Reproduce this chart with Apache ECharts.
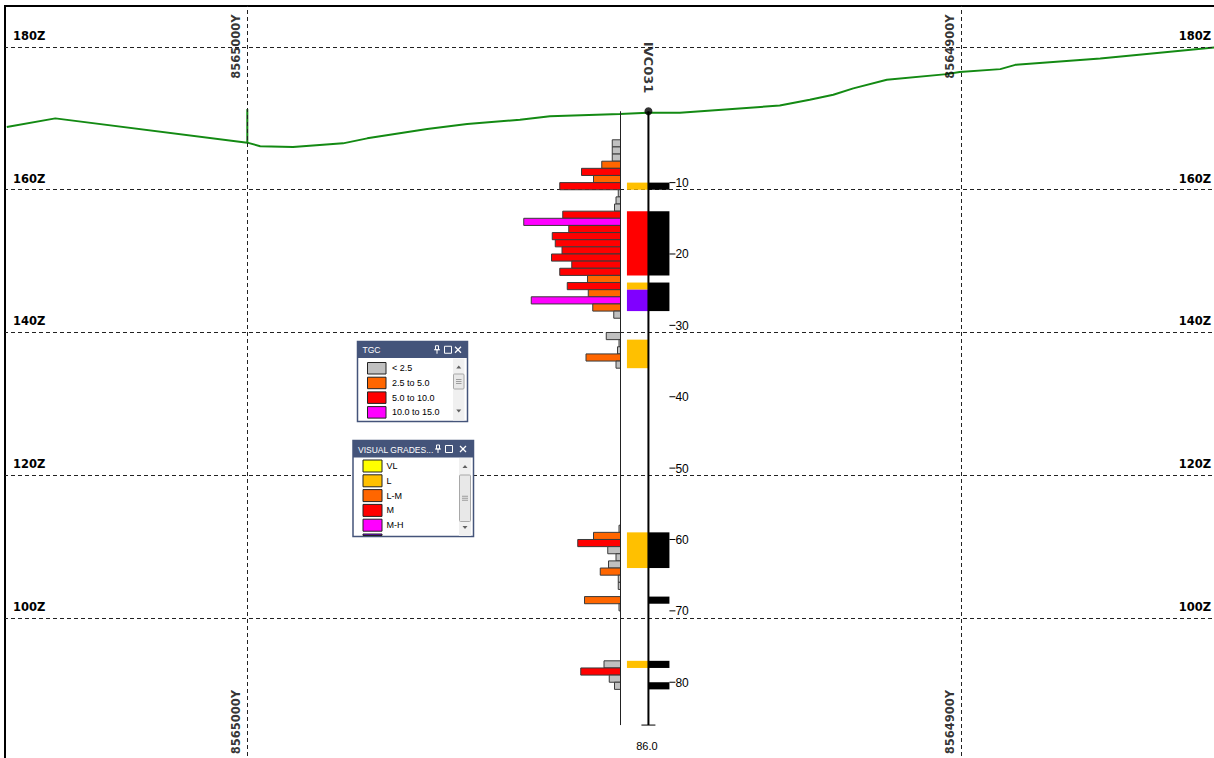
<!DOCTYPE html>
<html><head><meta charset="utf-8">
<script src="https://cdn.jsdelivr.net/npm/echarts@6/dist/echarts.min.js"></script>
<style>html,body{margin:0;padding:0;background:#fff}#c{width:1214px;height:758px}</style>
</head><body><div id="c"></div>
<script>
// ================= DATA =================
const holeName = 'IVC031';
const holeY = 8564943.8;      // northing of the vertical hole
const collarZ = 171.0;        // collar elevation
const holeDepth = 86.0;       // end of hole depth
const depthTicks = [10, 20, 30, 40, 50, 60, 70, 80];
const zTicks = [100, 120, 140, 160, 180];
const yTicks = [8565000, 8564900];

// topography profile (northing, elevation)
const terrainY = [8565033.7, 8565026.9, 8565000.0, 8564998.2, 8564993.6, 8564986.6, 8564983.2, 8564974.8, 8564969.2, 8564961.8, 8564957.6, 8564947.8, 8564943.9, 8564939.4, 8564925.4, 8564921.2, 8564917.9, 8564915.1, 8564910.4, 8564902.0, 8564900.2, 8564894.5, 8564892.4, 8564880.5, 8564863.9];
const terrainZ = [168.8, 170.0, 166.6, 166.1, 166.0, 166.5, 167.2, 168.5, 169.2, 169.8, 170.3, 170.6, 170.8, 170.8, 171.8, 172.6, 173.3, 174.2, 175.4, 176.2, 176.5, 176.9, 177.5, 178.4, 180.0];
const markerY = [8565000.0, 8565000.0];
const markerZ = [166.6, 171.3];

// TGC assays (1 m samples): depth from, value
const tgcFrom  = [4, 5, 6, 7, 8, 9, 10, 11, 12, 13, 14, 15, 16, 17, 18, 19, 20, 21, 22, 23, 24, 25, 26, 27, 28, 31, 32, 33, 34, 35, 58, 59, 60, 61, 62, 63, 64, 65, 66, 68, 69, 77, 78, 79, 80];
const tgcValue = [1.1, 1.1, 1.1, 2.5, 5.2, 3.6, 8.1, 0.3, 0.6, 0.8, 7.7, 12.9, 6.9, 9.1, 8.7, 7.8, 9.2, 6.5, 8.1, 4.4, 7.1, 4.3, 11.9, 3.7, 0.9, 1.9, 0.2, 0.4, 4.6, 0.6, 0.2, 3.6, 5.7, 1.7, 0.6, 1.6, 2.7, 0.3, 0.3, 4.8, 0.2, 2.2, 5.3, 1.5, 0.8];
const tgcClassNames  = ['< 2.5', '2.5 to 5.0', '5.0 to 10.0', '10.0 to 15.0'];
const tgcClassLimits = [2.5, 5.0, 10.0, 15.0];
const tgcClassColors = ['#C0C0C0', '#FF6600', '#FF0000', '#FF00FF'];

// visual grades
const gradeFrom = [10, 14, 24, 25, 32, 59, 77];
const gradeTo   = [11, 23, 25, 28, 36, 64, 78];
const gradeCode = ['L', 'M', 'L', 'H', 'L', 'L', 'L'];
const gradeNames  = ['VL', 'L', 'L-M', 'M', 'M-H', 'H'];
const gradeColors = ['#FFFF00', '#FFC000', '#FF6600', '#FF0000', '#FF00FF', '#8000FF'];

// intervals column
const intFrom = [10, 14, 24, 59, 68, 77, 80];
const intTo   = [11, 23, 28, 64, 69, 78, 81];

// ================= CHART =================
const FONT_R = '"Liberation Sans", Arial, sans-serif';
const Z_MIN = 79.685, Z_MAX = 185.744;
const Y_MIN = 8564863.86, Y_MAX = 8565033.95;

function tgcColor(v) {
  for (let i = 0; i < tgcClassLimits.length; i++) if (v < tgcClassLimits[i]) return tgcClassColors[i];
  return tgcClassColors[tgcClassColors.length - 1];
}

const chart = echarts.init(document.getElementById('c'), null, {renderer: 'svg', width: 1214, height: 758});

const zLineData = [];
zTicks.forEach(z => {
  zLineData.push({yAxis: z, label: {position: 'insideStartTop', distance: [8, 5], formatter: z + 'Z'}});
  zLineData.push({yAxis: z, label: {position: 'insideEndTop', distance: [8, 5], formatter: z + 'Z'}});
});
yTicks.forEach(y => zLineData.push({xAxis: y, label: {show: false}}));

const yLabelData = [];
yTicks.forEach(y => {
  yLabelData.push([y, 180.07]);
  yLabelData.push([y, 85.43]);
});

// legend panels
function panelElements(p) {
  const els = [];
  els.push({type: 'rect', z: 100, shape: {x: p.x, y: p.y, width: p.w, height: p.h}, style: {fill: '#fff', stroke: '#44547a', lineWidth: 1.5}});
  els.push({type: 'rect', z: 101, shape: {x: p.x, y: p.y, width: p.w, height: p.th}, style: {fill: '#44547a'}});
  els.push({type: 'text', z: 102, x: p.x + 5, y: p.y + p.th / 2 + 0.5, style: {text: p.title, fill: '#fff', font: '8.5px ' + FONT_R, textVerticalAlign: 'middle', verticalAlign: 'middle'}});
  const iy = p.y + p.th / 2;
  els.push({type: 'rect', z: 102, shape: {x: p.pin - 1.5, y: iy - 4, width: 3, height: 4}, style: {fill: 'none', stroke: '#fff', lineWidth: 1}});
  els.push({type: 'line', z: 102, shape: {x1: p.pin - 3, y1: iy, x2: p.pin + 3, y2: iy}, style: {stroke: '#fff', lineWidth: 1}});
  els.push({type: 'line', z: 102, shape: {x1: p.pin, y1: iy, x2: p.pin, y2: iy + 4}, style: {stroke: '#fff', lineWidth: 1}});
  els.push({type: 'rect', z: 102, shape: {x: p.sq - 3.5, y: iy - 3.5, width: 7, height: 7}, style: {fill: 'none', stroke: '#fff', lineWidth: 1}});
  els.push({type: 'line', z: 102, shape: {x1: p.cl - 3, y1: iy - 3, x2: p.cl + 3, y2: iy + 3}, style: {stroke: '#fff', lineWidth: 1.3}});
  els.push({type: 'line', z: 102, shape: {x1: p.cl - 3, y1: iy + 3, x2: p.cl + 3, y2: iy - 3}, style: {stroke: '#fff', lineWidth: 1.3}});
  p.names.forEach((n, i) => {
    const ry = p.r0 + i * p.rs;
    if (ry + p.sh <= p.y + p.h) {
      els.push({type: 'rect', z: 102, shape: {x: p.sx, y: ry, width: p.sw, height: p.sh}, style: {fill: p.colors[i], stroke: '#222', lineWidth: 1}});
      els.push({type: 'text', z: 102, x: p.tx, y: ry + p.sh / 2, style: {text: n, fill: '#000', font: '9px ' + FONT_R, textVerticalAlign: 'middle', verticalAlign: 'middle'}});
    } else if (ry < p.y + p.h - 1) {
      els.push({type: 'rect', z: 102, shape: {x: p.sx, y: ry, width: p.sw, height: p.y + p.h - 1 - ry}, style: {fill: p.colors[i], stroke: '#222', lineWidth: 1}});
    }
  });
  const b = p.sb;
  els.push({type: 'rect', z: 102, shape: {x: b.x, y: b.y, width: b.w, height: b.h}, style: {fill: '#f0f0f0'}});
  els.push({type: 'polygon', z: 103, shape: {points: [[b.x + b.w / 2 - 2.5, b.up + 1.5], [b.x + b.w / 2 + 2.5, b.up + 1.5], [b.x + b.w / 2, b.up - 1.5]]}, style: {fill: '#606060'}});
  els.push({type: 'polygon', z: 103, shape: {points: [[b.x + b.w / 2 - 2.5, b.dn - 1.5], [b.x + b.w / 2 + 2.5, b.dn - 1.5], [b.x + b.w / 2, b.dn + 1.5]]}, style: {fill: '#606060'}});
  els.push({type: 'rect', z: 103, shape: {x: b.x + 0.5, y: b.t0, width: b.w - 1, height: b.t1 - b.t0, r: 1}, style: {fill: '#e8e8e8', stroke: '#a8a8a8', lineWidth: 1}});
  const mid = (b.t0 + b.t1) / 2;
  [-2, 0, 2].forEach(d => els.push({type: 'line', z: 104, shape: {x1: b.x + 3, y1: mid + d, x2: b.x + b.w - 3, y2: mid + d}, style: {stroke: '#8a8a8a', lineWidth: 0.8}}));
  return els;
}

const graphics = [].concat(
  panelElements({x: 357.5, y: 341.5, w: 110, h: 80, th: 16.5, title: 'TGC', pin: 437, sq: 448, cl: 458,
    names: tgcClassNames, colors: tgcClassColors, sx: 367.5, sw: 18.5, sh: 11.5, r0: 362.5, rs: 14.7, tx: 392,
    sb: {x: 453, y: 358.5, w: 11.5, h: 62, up: 367, dn: 411, t0: 374, t1: 389}}),
  panelElements({x: 353, y: 440.5, w: 120.5, h: 96, th: 17, title: 'VISUAL GRADES...', pin: 438, sq: 449, cl: 463,
    names: gradeNames, colors: gradeColors, sx: 363, sw: 19, sh: 12, r0: 460, rs: 14.8, tx: 386.5,
    sb: {x: 459, y: 458, w: 12, h: 78, up: 466.5, dn: 527.5, t0: 475, t1: 521.5}})
);

const option = {
  animation: false,
  backgroundColor: '#fff',
  grid: [
    {left: 5, top: 6, width: 1214, height: 757, outerBoundsMode: 'none', show: true, borderColor: '#000', borderWidth: 2, backgroundColor: '#fff'},
    {left: 500.5, top: 6, width: 120, height: 757, outerBoundsMode: 'none', show: false}
  ],
  xAxis: [
    {gridIndex: 0, type: 'value', min: Y_MIN, max: Y_MAX, inverse: true, show: false},
    {gridIndex: 1, type: 'value', min: 0, max: 16, inverse: true, show: false}
  ],
  yAxis: [
    {gridIndex: 0, type: 'value', min: Z_MIN, max: Z_MAX, show: false},
    {gridIndex: 1, type: 'value', min: Z_MIN, max: Z_MAX, show: false}
  ],
  graphic: graphics,
  series: [
    {
      name: 'topography', type: 'line', xAxisIndex: 0, yAxisIndex: 0, z: 3,
      data: terrainY.map((y, i) => [y, terrainZ[i]]),
      symbol: 'none', lineStyle: {color: '#138a13', width: 2}, silent: true,
      markLine: {
        silent: true, symbol: ['none', 'none'], animation: false,
        lineStyle: {type: [4, 3], color: '#222', width: 1},
        label: {show: true, color: '#000', fontFamily: 'DejaVu Sans', fontWeight: 'bold', fontSize: 11.5},
        data: zLineData
      }
    },
    {
      name: 'marker', type: 'line', xAxisIndex: 0, yAxisIndex: 0, z: 3,
      data: markerY.map((y, i) => [y, markerZ[i]]),
      symbol: 'none', lineStyle: {color: '#138a13', width: 2}, silent: true
    },
    {
      name: 'TGC', type: 'custom', xAxisIndex: 1, yAxisIndex: 1, z: 5,
      data: tgcValue.map((v, i) => [v, collarZ - tgcFrom[i], collarZ - (tgcFrom[i] + 1)]),
      encode: {x: 0, y: [1, 2]},
      renderItem: (params, api) => {
        const v = api.value(0);
        const a = api.coord([v, api.value(1)]);
        const b = api.coord([0, api.value(2)]);
        return {type: 'rect', shape: {x: a[0], y: a[1], width: b[0] - a[0], height: b[1] - a[1]},
          style: {fill: tgcColor(v), stroke: '#3a3a3a', lineWidth: 1}};
      }
    },
    {
      name: 'TGC baseline', type: 'line', xAxisIndex: 1, yAxisIndex: 1, z: 6,
      data: [[0, collarZ], [0, collarZ - holeDepth]],
      symbol: 'none', lineStyle: {color: '#222', width: 1}, silent: true
    },
    {
      name: 'Visual grades', type: 'custom', xAxisIndex: 0, yAxisIndex: 0, z: 5,
      data: gradeFrom.map((f, i) => [holeY, collarZ - f, collarZ - gradeTo[i], gradeNames.indexOf(gradeCode[i])]),
      encode: {x: 0, y: [1, 2]},
      renderItem: (params, api) => {
        const a = api.coord([api.value(0), api.value(1)]);
        const b = api.coord([api.value(0), api.value(2)]);
        return {type: 'rect', shape: {x: a[0] - 21.5, y: a[1], width: 21.5, height: b[1] - a[1]},
          style: {fill: gradeColors[api.value(3)]}};
      }
    },
    {
      name: 'Intervals', type: 'custom', xAxisIndex: 0, yAxisIndex: 0, z: 5,
      data: intFrom.map((f, i) => [holeY, collarZ - f, collarZ - intTo[i]]),
      encode: {x: 0, y: [1, 2]},
      renderItem: (params, api) => {
        const a = api.coord([api.value(0), api.value(1)]);
        const b = api.coord([api.value(0), api.value(2)]);
        return {type: 'rect', shape: {x: a[0], y: a[1], width: 21, height: b[1] - a[1]}, style: {fill: '#000'}};
      }
    },
    {
      name: 'Hole trace', type: 'line', xAxisIndex: 0, yAxisIndex: 0, z: 7,
      data: [[holeY, collarZ], [holeY, collarZ - holeDepth]],
      symbol: 'none', lineStyle: {color: '#000', width: 2}, silent: true
    },
    {
      name: 'Collar', type: 'scatter', xAxisIndex: 0, yAxisIndex: 0, z: 8,
      data: [[holeY, collarZ]], symbol: 'circle', symbolSize: 8, itemStyle: {color: '#000'}, silent: true
    },
    {
      name: 'Depth ticks', type: 'custom', xAxisIndex: 0, yAxisIndex: 0, z: 8,
      data: depthTicks.map(d => [holeY, collarZ - d, d]),
      encode: {x: 0, y: 1},
      renderItem: (params, api) => {
        const p = api.coord([api.value(0), api.value(1)]);
        return {type: 'group', children: [
          {type: 'line', shape: {x1: p[0] + 21, y1: p[1], x2: p[0] + 27, y2: p[1]}, style: {stroke: '#000', lineWidth: 1}},
          {type: 'text', x: p[0] + 27, y: p[1] + 0.5, style: {text: String(api.value(2)), fill: '#000', font: '12px ' + FONT_R,
            textAlign: 'left', align: 'left', textVerticalAlign: 'middle', verticalAlign: 'middle'}}
        ]};
      }
    },
    {
      name: 'End of hole', type: 'custom', xAxisIndex: 0, yAxisIndex: 0, z: 8,
      data: [[holeY, collarZ - holeDepth, holeDepth]],
      encode: {x: 0, y: 1},
      renderItem: (params, api) => {
        const p = api.coord([api.value(0), api.value(1)]);
        return {type: 'group', children: [
          {type: 'line', shape: {x1: p[0] - 7, y1: p[1], x2: p[0] + 7, y2: p[1]}, style: {stroke: '#000', lineWidth: 1}},
          {type: 'text', x: p[0] - 1.5, y: p[1] + 21, style: {text: api.value(2).toFixed(1), fill: '#000', font: '11px ' + FONT_R,
            textAlign: 'center', align: 'center', textVerticalAlign: 'middle', verticalAlign: 'middle'}}
        ]};
      }
    },
    {
      name: 'Northing labels', type: 'scatter', xAxisIndex: 0, yAxisIndex: 0, z: 9,
      data: yLabelData, symbolSize: 0, silent: true,
      label: {show: true, position: 'inside', rotate: 90, offset: [0, -11.5], formatter: p => p.value[0] + 'Y',
        color: '#000', fontFamily: 'DejaVu Sans', fontWeight: 'bold', fontSize: 11.5}
    },
    {
      name: 'Hole name', type: 'scatter', xAxisIndex: 0, yAxisIndex: 0, z: 9,
      data: [[holeY, 177.13]], symbolSize: 0, silent: true,
      label: {show: true, position: 'inside', rotate: -90, formatter: () => holeName,
        color: '#000', fontFamily: 'DejaVu Sans', fontWeight: 'bold', fontSize: 13}
    }
  ]
};
chart.setOption(option);
</script>
</body></html>
